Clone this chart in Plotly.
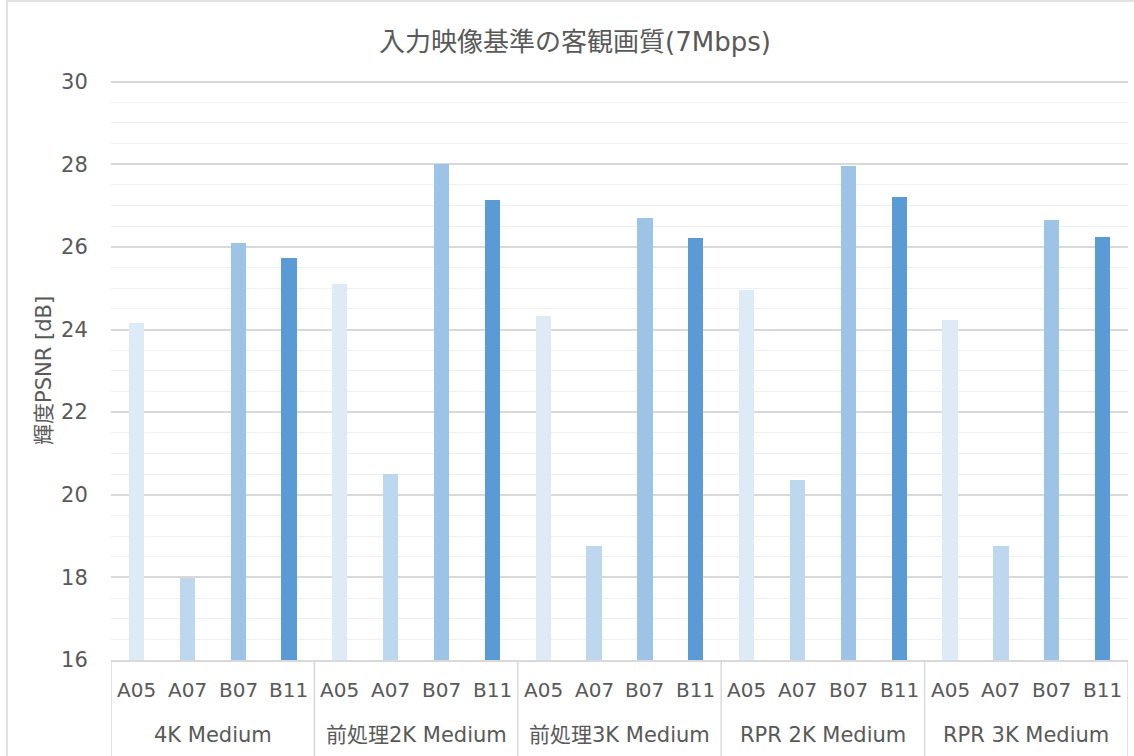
import plotly.graph_objects as go

# Encoding conditions (outer category) and test sequences (inner category)
groups = ["4K Medium", "前処理2K Medium", "前処理3K Medium", "RPR 2K Medium", "RPR 3K Medium"]
sequences = ["A05", "A07", "B07", "B11"]

# Luma PSNR [dB] per sequence, one value per condition
psnr_a05 = [24.15, 25.09, 24.32, 24.96, 24.22]
psnr_a07 = [17.99, 20.50, 18.77, 20.35, 18.77]
psnr_b07 = [26.09, 28.00, 26.71, 27.95, 26.64]
psnr_b11 = [25.74, 27.13, 26.22, 27.20, 26.23]

y_ticks = [16, 18, 20, 22, 24, 26, 28, 30]

seq_values = {"A05": psnr_a05, "A07": psnr_a07, "B07": psnr_b07, "B11": psnr_b11}
seq_colors = {"A05": "#DDEBF7", "A07": "#BDD7EE", "B07": "#9DC3E6", "B11": "#5B9BD5"}

FONT = "DejaVu Sans, Noto Sans CJK JP, sans-serif"
TEXT = "#595959"
GRID = "#D9D9D9"

n_seq = len(sequences)
xs, ys, cols, seq_lbl = [], [], [], []
for gi, g in enumerate(groups):
    for si, s in enumerate(sequences):
        xs.append(gi * n_seq + si)
        ys.append(seq_values[s][gi])
        cols.append(seq_colors[s])
        seq_lbl.append(s)

fig = go.Figure(
    go.Bar(
        x=xs,
        y=ys,
        width=0.3,
        marker=dict(color=cols, line=dict(width=0)),
        hovertext=[f"{groups[x // n_seq]} {s}" for x, s in zip(xs, seq_lbl)],
        showlegend=False,
    )
)

n_cat = len(xs)
fig.update_xaxes(
    range=[-0.5, n_cat - 0.5],
    showticklabels=False,
    showgrid=False,
    zeroline=False,
    showline=True,
    linecolor=GRID,
    linewidth=1.5,
    fixedrange=True,
)
# small headroom above 30 so its gridline is drawn inside the plot area
fig.update_yaxes(
    range=[16, 30.04],
    tickvals=y_ticks,
    tickfont=dict(family=FONT, size=21, color=TEXT),
    ticks="outside",
    ticklen=18,
    tickcolor="rgba(0,0,0,0)",
    showgrid=True,
    gridcolor=GRID,
    gridwidth=1.5,
    minor=dict(dtick=0.5, showgrid=True, gridcolor="#EFEFEF", gridwidth=1),
    zeroline=False,
    showline=False,
)

annotations = []
shapes = []

# inner category labels (sequence names)
for x, s in zip(xs, seq_lbl):
    annotations.append(dict(
        x=x, y=0, xref="x", yref="paper", text=s, showarrow=False,
        yanchor="middle", yshift=-30,
        font=dict(family=FONT, size=20, color=TEXT),
    ))

# outer category labels and separators
for gi, g in enumerate(groups):
    annotations.append(dict(
        x=gi * n_seq + (n_seq - 1) / 2, y=0, xref="x", yref="paper", text=g,
        showarrow=False, yanchor="middle", yshift=-75,
        font=dict(family=FONT, size=21, color=TEXT),
    ))
for k in range(len(groups) + 1):
    xb = k * n_seq - 0.5
    shapes.append(dict(
        type="line", xref="x", yref="paper", x0=xb, x1=xb, y0=0, y1=-0.25,
        line=dict(color=GRID, width=1.5),
    ))

# chart frame
shapes.append(dict(
    type="rect", xref="paper", yref="paper",
    x0=-0.1023, x1=1.2, y0=-0.5, y1=1.136,
    line=dict(color=GRID, width=1.5), fillcolor="rgba(0,0,0,0)", layer="below",
))

# axis title
annotations.append(dict(
    x=-0.0659, y=0.5, xref="paper", yref="paper", text="輝度PSNR [dB]",
    textangle=-90, showarrow=False, xanchor="center", yanchor="middle",
    font=dict(family=FONT, size=21, color=TEXT),
))

fig.update_layout(
    width=1134,
    height=756,
    margin=dict(l=111, r=6, t=80, b=96),
    paper_bgcolor="white",
    plot_bgcolor="white",
    bargap=0,
    title=dict(
        text="入力映像基準の客観画質(7Mbps)",
        xref="container", yref="container", x=0.507, y=1 - 42 / 756,
        xanchor="center", yanchor="middle",
        font=dict(family=FONT, size=26, color=TEXT),
    ),
    annotations=annotations,
    shapes=shapes,
)

fig.write_html("out.html")
